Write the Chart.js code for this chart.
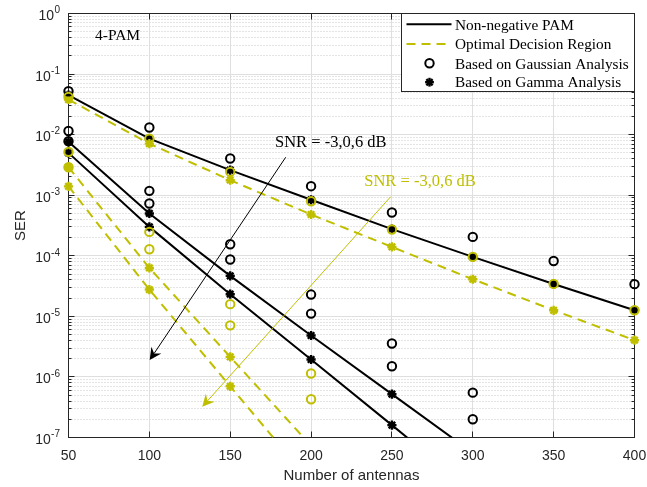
<!DOCTYPE html>
<html><head><meta charset="utf-8">
<script src="https://cdn.jsdelivr.net/npm/chart.js@4.4.1/dist/chart.umd.min.js"></script>
<style>html,body{margin:0;padding:0;background:#fff}#wrap{width:647px;height:487px;position:relative}canvas{display:block}</style>
</head><body><div id="wrap"><canvas id="c" width="647" height="487"></canvas></div>
<script>
// ---------- data ----------
const antennas = [50, 100, 150, 200, 250, 300, 350, 400];
const xTickLabels = ['50', '100', '150', '200', '250', '300', '350', '400'];
const yTickExponents = ['-7', '-6', '-5', '-4', '-3', '-2', '-1', '0'];
const snrLabel = 'SNR = -3,0,6 dB';
const legendLabels = ['Non-negative PAM', 'Optimal Decision Region', 'Based on Gaussian Analysis', 'Based on Gamma Analysis'];

// Non-negative PAM, Gamma analysis (solid black lines + black asterisks)
const pamSnrA = [0.045, 0.0086, 0.0026, 8.4e-4, 2.75e-4, 9.6e-5, 3.43e-5, 1.26e-5];
const pamSnrB = [0.0076, 5.0e-4, 4.66e-5, 4.83e-6, 5.19e-7, 5.6e-8, null, null];
const pamSnrC = [0.0050, 3.0e-4, 2.32e-5, 1.94e-6, 1.6e-7, 1.3e-8, null, null];
// Optimal decision region, Gamma analysis (dashed yellow lines + yellow asterisks)
const odrSnrA = [0.038, 0.0071, 0.00177, 4.8e-4, 1.4e-4, 4.1e-5, 1.26e-5, 4.04e-6];
const odrSnrB = [0.0029, 6.3e-5, 2.14e-6, 7.3e-8, null, null, null, null];
const odrSnrC = [0.0014, 2.77e-5, 7.0e-7, 1.8e-8, null, null, null, null];
// Gaussian analysis (circles)
const pamGaussA = [0.052, 0.0131, 0.00404, 0.00141, 5.18e-4, 2.05e-4, 8.2e-5, 3.4e-5];
const pamGaussB = [0.0115, 0.00118, 1.55e-4, 2.29e-5, 3.56e-6, 5.5e-7, null, null];
const pamGaussC = [0.0078, 7.3e-4, 8.7e-5, 1.11e-5, 1.5e-6, 2.0e-7, null, null];
const odrGaussA = [0.042, 0.0086, 0.00243, 7.96e-4, 2.71e-4, 9.6e-5, 3.43e-5, 1.26e-5];
const odrGaussB = [0.0052, 2.48e-4, 1.59e-5, 1.14e-6, null, null, null, null];
const odrGaussC = [0.0029, 1.28e-4, 7.1e-6, 4.28e-7, null, null, null, null];

// ---------- styles ----------
const YEL = 'rgb(191,191,0)';
const BLK = '#000000';
const AXC = '#262626';
const SANS = '"Liberation Sans", Arial, sans-serif';
const SERIF = '"Liberation Serif", "Times New Roman", serif';
const Y_MIN = 1e-7, Y_MAX = 1;

function pts(vals) {
  return antennas.map((x, i) => ({ x: x, y: vals[i] })).filter(p => p.y !== null);
}
function inRange(vals) {
  return pts(vals).filter(p => p.y >= Y_MIN && p.y <= Y_MAX);
}
function lineDs(vals, color, dashed) {
  return { data: pts(vals), showLine: true, borderColor: color, borderWidth: 2,
    borderDash: dashed ? [9, 6] : [], pointRadius: 0, fill: false, tension: 0,
    clip: { left: 2, right: 2, top: 2, bottom: 0 }, order: 10 };
}
function markDs(vals, color, style, order) {
  return { data: inRange(vals), showLine: false, pointStyle: style,
    pointRadius: style === 'circle' ? 4.2 : 4.6, pointBorderWidth: style === 'circle' ? 2 : 2.4,
    pointBorderColor: color, pointBackgroundColor: 'rgba(0,0,0,0)',
    borderColor: color, backgroundColor: 'rgba(0,0,0,0)', clip: 8, order: order };
}

const datasets = [
  markDs(odrGaussA, YEL, 'circle', 0), markDs(odrGaussB, YEL, 'circle', 0), markDs(odrGaussC, YEL, 'circle', 0),
  markDs(pamGaussA, BLK, 'circle', 1), markDs(pamGaussB, BLK, 'circle', 1), markDs(pamGaussC, BLK, 'circle', 1),
  markDs(odrSnrA, YEL, 'star', 2), markDs(odrSnrB, YEL, 'star', 2), markDs(odrSnrC, YEL, 'star', 2),
  markDs(pamSnrA, BLK, 'star', 3), markDs(pamSnrB, BLK, 'star', 3), markDs(pamSnrC, BLK, 'star', 3),
  lineDs(odrSnrA, YEL, true), lineDs(odrSnrB, YEL, true), lineDs(odrSnrC, YEL, true),
  lineDs(pamSnrA, BLK, false), lineDs(pamSnrB, BLK, false), lineDs(pamSnrC, BLK, false)
];

// annotations in data coordinates
const annotations = {
  pam: { x: 66.4, y: 0.365 },
  snrBlack: { x: 177.7, y: 6.25e-3 },
  snrYellow: { x: 232.9, y: 1.445e-3 },
  arrowBlack: { x1: 184.3, y1: 4.23e-3, x2: 100.2, y2: 1.9e-6 },
  arrowYellow: { x1: 249.2, y1: 9.44e-4, x2: 132.7, y2: 3.22e-7 }
};

function snap(v) { return Math.round(v - 0.5) + 0.5; }
function seg(ctx, x1, y1, x2, y2) { ctx.beginPath(); ctx.moveTo(x1, y1); ctx.lineTo(x2, y2); ctx.stroke(); }
function arrow(ctx, x1, y1, x2, y2, color) {
  const ang = Math.atan2(y2 - y1, x2 - x1), ux = Math.cos(ang), uy = Math.sin(ang);
  const px = -uy, py = ux, L = 12, W = 6, N = 8;
  ctx.strokeStyle = color; ctx.fillStyle = color; ctx.lineWidth = 1;
  seg(ctx, x1, y1, x2 - N * ux, y2 - N * uy);
  ctx.beginPath();
  ctx.moveTo(x2, y2);
  ctx.lineTo(x2 - L * ux + W * px, y2 - L * uy + W * py);
  ctx.lineTo(x2 - N * ux, y2 - N * uy);
  ctx.lineTo(x2 - L * ux - W * px, y2 - L * uy - W * py);
  ctx.closePath();
  ctx.fill();
}
function drawStar(ctx, x, y, r, color) {
  ctx.strokeStyle = color; ctx.lineWidth = 2.4;
  seg(ctx, x - r, y, x + r, y); seg(ctx, x, y - r, x, y + r);
  const d = r * Math.SQRT1_2;
  seg(ctx, x - d, y - d, x + d, y + d); seg(ctx, x - d, y + d, x + d, y - d);
}

const deco = {
  id: 'deco',
  beforeDatasetsDraw(chart) {
    const ctx = chart.ctx, a = chart.chartArea, xs = chart.scales.x, ys = chart.scales.y;
    ctx.save();
    ctx.lineWidth = 1;
    // minor grid (dotted, horizontal)
    ctx.strokeStyle = '#c8c8c8';
    ctx.setLineDash([1, 2]);
    for (let e = -7; e < 0; e++) {
      for (let m = 2; m <= 9; m++) {
        const py = snap(ys.getPixelForValue(m * Math.pow(10, e)));
        seg(ctx, a.left, py, a.right, py);
      }
    }
    ctx.setLineDash([]);
    // major grid
    ctx.strokeStyle = '#dfdfdf';
    antennas.forEach(v => { const px = snap(xs.getPixelForValue(v)); seg(ctx, px, a.top, px, a.bottom); });
    yTickExponents.forEach(e => { const py = snap(ys.getPixelForValue(Math.pow(10, +e))); seg(ctx, a.left, py, a.right, py); });
    // box
    ctx.strokeStyle = AXC;
    ctx.strokeRect(snap(a.left), snap(a.top), Math.round(a.right - a.left), Math.round(a.bottom - a.top));
    // ticks
    antennas.forEach(v => {
      const px = snap(xs.getPixelForValue(v));
      seg(ctx, px, a.bottom, px, a.bottom - 6);
      seg(ctx, px, a.top, px, a.top + 6);
    });
    for (let e = -7; e <= 0; e++) {
      const py = snap(ys.getPixelForValue(Math.pow(10, e)));
      seg(ctx, a.left, py, a.left + 6, py);
      seg(ctx, a.right, py, a.right - 6, py);
      if (e < 0) {
        for (let m = 2; m <= 9; m++) {
          const pm = snap(ys.getPixelForValue(m * Math.pow(10, e)));
          seg(ctx, a.left, pm, a.left + 3, pm);
          seg(ctx, a.right, pm, a.right - 3, pm);
        }
      }
    }
    ctx.restore();
  },
  afterDatasetsDraw(chart) {
    const ctx = chart.ctx, a = chart.chartArea, xs = chart.scales.x, ys = chart.scales.y;
    ctx.save();
    // x tick labels
    ctx.fillStyle = AXC;
    ctx.font = '14px ' + SANS;
    ctx.textAlign = 'center';
    ctx.textBaseline = 'alphabetic';
    antennas.forEach((v, i) => ctx.fillText(xTickLabels[i], xs.getPixelForValue(v), a.bottom + 22.5));
    // y tick labels 10^e
    yTickExponents.forEach(e => {
      const py = ys.getPixelForValue(Math.pow(10, +e));
      ctx.font = '10px ' + SANS;
      const we = ctx.measureText(e).width;
      ctx.textAlign = 'left';
      const right = a.left - 8.5;
      ctx.fillText(e, right - we, py - 0.2);
      ctx.font = '14px ' + SANS;
      ctx.textAlign = 'right';
      ctx.fillText('10', right - we - 0.3, py + 6.5);
    });
    // axis titles
    ctx.font = '15px ' + SANS;
    ctx.textAlign = 'center';
    ctx.fillText('Number of antennas', (a.left + a.right) / 2, 480);
    ctx.save();
    ctx.translate(25, (a.top + a.bottom) / 2);
    ctx.rotate(-Math.PI / 2);
    ctx.fillText('SER', 0, 0);
    ctx.restore();

    // annotations
    const A = annotations;
    ctx.textAlign = 'left';
    ctx.fillStyle = BLK;
    ctx.font = '15.5px ' + SERIF;
    ctx.fillText('4-PAM', xs.getPixelForValue(A.pam.x), ys.getPixelForValue(A.pam.y));
    ctx.font = '16.5px ' + SERIF;
    ctx.fillText(snrLabel, xs.getPixelForValue(A.snrBlack.x), ys.getPixelForValue(A.snrBlack.y));
    ctx.fillStyle = YEL;
    ctx.fillText(snrLabel, xs.getPixelForValue(A.snrYellow.x), ys.getPixelForValue(A.snrYellow.y));
    arrow(ctx, xs.getPixelForValue(A.arrowBlack.x1), ys.getPixelForValue(A.arrowBlack.y1),
      xs.getPixelForValue(A.arrowBlack.x2), ys.getPixelForValue(A.arrowBlack.y2), BLK);
    arrow(ctx, xs.getPixelForValue(A.arrowYellow.x1), ys.getPixelForValue(A.arrowYellow.y1),
      xs.getPixelForValue(A.arrowYellow.x2), ys.getPixelForValue(A.arrowYellow.y2), YEL);

    // legend
    const lx = 401.5, ly = snap(a.top), lw = snap(a.right) - 401.5, lh = 78;
    ctx.fillStyle = '#ffffff';
    ctx.fillRect(lx, ly, lw, lh);
    ctx.strokeStyle = AXC; ctx.lineWidth = 1;
    ctx.strokeRect(lx, ly, lw, lh);
    const rows = [24.3, 44, 63.3, 82.2];
    ctx.lineWidth = 2;
    ctx.strokeStyle = BLK;
    seg(ctx, 406.5, rows[0], 451.5, rows[0]);
    ctx.strokeStyle = YEL;
    ctx.setLineDash([9, 6]);
    seg(ctx, 406.5, rows[1], 451.5, rows[1]);
    ctx.setLineDash([]);
    ctx.strokeStyle = BLK;
    ctx.beginPath(); ctx.arc(429.5, rows[2], 4.2, 0, Math.PI * 2); ctx.stroke();
    drawStar(ctx, 429.5, rows[3], 4.4, BLK);
    ctx.fillStyle = BLK;
    ctx.font = '15.3px ' + SERIF;
    ctx.textAlign = 'left';
    legendLabels.forEach((t, i) => ctx.fillText(t, 455, rows[i] + 5.2));
    ctx.restore();
  }
};

new Chart(document.getElementById('c'), {
  type: 'scatter',
  data: { datasets: datasets },
  options: {
    responsive: false,
    animation: false,
    devicePixelRatio: 1,
    layout: { padding: { left: 0, top: 13.5, right: 12.5, bottom: 0 } },
    plugins: { legend: { display: false }, tooltip: { enabled: false } },
    scales: {
      x: { type: 'linear', min: 50, max: 400,
        ticks: { display: false }, grid: { display: false }, border: { display: false },
        afterFit: s => { s.height = 49.5; } },
      y: { type: 'logarithmic', min: Y_MIN, max: Y_MAX,
        ticks: { display: false }, grid: { display: false }, border: { display: false },
        afterFit: s => { s.width = 68.5; } }
    }
  },
  plugins: [deco]
});
</script>
</body></html>
